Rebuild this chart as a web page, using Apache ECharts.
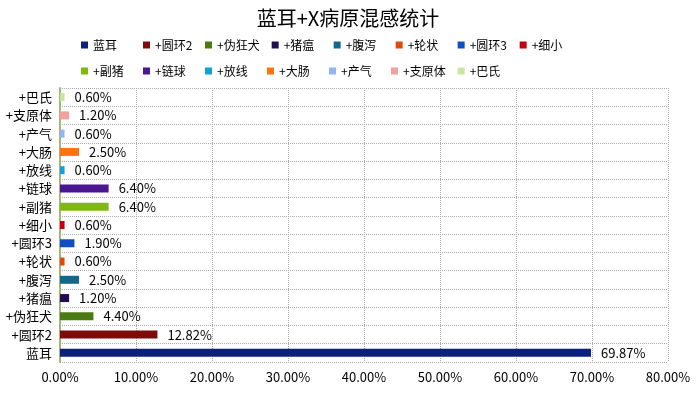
<!DOCTYPE html>
<html><head><meta charset="utf-8">
<script src="https://cdn.jsdelivr.net/npm/echarts@6/dist/echarts.min.js"></script>
<style>html,body{margin:0;padding:0;background:#fff}#c{width:696px;height:394px}</style>
</head><body><div id="c"></div>
<script>
const categories = ['蓝耳','+圆环2','+伪狂犬','+猪瘟','+腹泻','+轮状','+圆环3','+细小','+副猪','+链球','+放线','+大肠','+产气','+支原体','+巴氏'];
const values = [69.87, 12.82, 4.40, 1.20, 2.50, 0.60, 1.90, 0.60, 6.40, 6.40, 0.60, 2.50, 0.60, 1.20, 0.60];
const colors = ['#0a1f80','#7f0a0a','#4a7b12','#220c52','#13688a','#e04a0c','#0d4ec0','#c20012','#7fb80e','#4b1791','#14a0d2','#ff7410','#93b4f0','#f2a0a0','#c8e6a0'];
const xTicks = [0,10,20,30,40,50,60,70,80];

const FONT = '"Noto Sans CJK SC", "Noto Sans", sans-serif';
const series = categories.map((name, i) => ({
  name: name,
  type: 'bar',
  stack: 'all',
  barWidth: 8,
  itemStyle: { color: colors[i] },
  label: {
    show: true, position: 'right', distance: 10,
    color: '#000', fontSize: 13, fontFamily: FONT,
    formatter: p => Number(p.value).toFixed(2) + '%'
  },
  data: categories.map((c, j) => j === i ? values[i] : '-')
}));

const chart = echarts.init(document.getElementById('c'), null, {renderer: 'canvas'});
chart.setOption({
  animation: false,
  textStyle: { fontFamily: FONT },
  title: {
    text: '蓝耳+X病原混感统计', left: 'center', top: 3,
    textStyle: { fontSize: 20, fontWeight: 'normal', color: '#000', fontFamily: FONT }
  },
  legend: {
    left: 76, top: 33, width: 520,
    itemWidth: 7, itemHeight: 7, itemGap: 12,
    icon: 'rect',
    textStyle: { fontSize: 12, color: '#000', width: 38, lineHeight: 14, fontFamily: FONT },
    data: categories
  },
  grid: { left: 60, right: 28, top: 88, bottom: 32, containLabel: false },
  xAxis: {
    type: 'value', min: xTicks[0], max: xTicks[xTicks.length-1], interval: 10,
    axisLine: { show: false }, axisTick: { show: false },
    axisLabel: { color: '#000', fontSize: 13, margin: 9, formatter: v => v.toFixed(2) + '%', fontFamily: FONT },
    splitLine: { show: true, lineStyle: { color: '#aaa', type: 'dotted', width: 1 } }
  },
  yAxis: {
    type: 'category', data: categories,
    axisLine: { show: true, lineStyle: { color: '#a3b878', width: 2 } },
    axisTick: { show: false },
    axisLabel: { color: '#000', fontSize: 13, margin: 8, fontFamily: FONT },
    splitLine: { show: true, lineStyle: { color: '#aaa', type: 'dotted', width: 1 } }
  },
  series: series
});
</script></body></html>
